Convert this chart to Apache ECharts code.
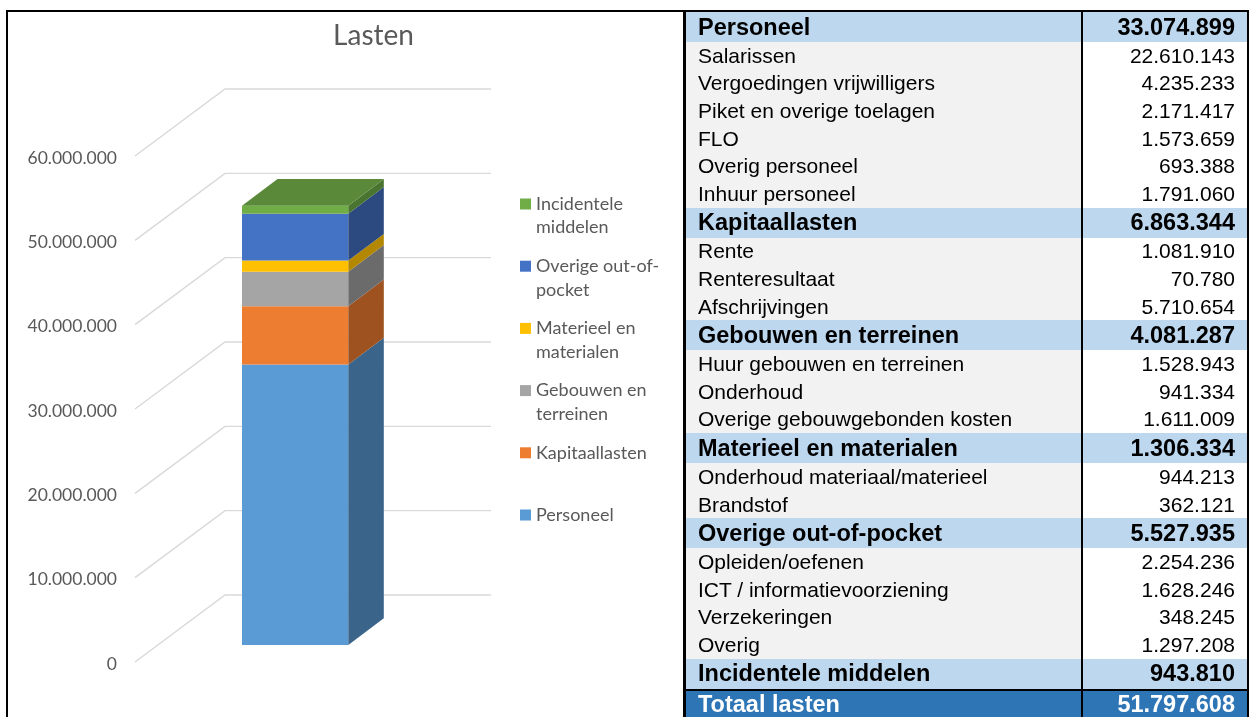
<!DOCTYPE html>
<html>
<head>
<meta charset="utf-8">
<script src="https://cdn.jsdelivr.net/npm/echarts@6/dist/echarts.min.js"></script>
<style>
html,body{margin:0;padding:0;background:#fff;width:1250px;height:717px;overflow:hidden;}
#chart{position:absolute;left:0;top:0;width:1250px;height:717px;}
#table{position:absolute;left:0;top:0;width:1250px;height:717px;font-family:"Liberation Sans",Arial,sans-serif;color:#000;}
.cell{position:absolute;box-sizing:border-box;display:flex;align-items:center;white-space:nowrap;}
.lab{padding-left:12px;}
.val{justify-content:flex-end;padding-right:12px;}
.det{font-size:21px;}
.hdr{font-size:23.5px;font-weight:bold;}
.line{position:absolute;background:#000;}
</style>
</head>
<body>
<div id="chart"></div>
<div id="table"></div>
<script>
// ---------- DATA ----------
const groups = ['Personeel', 'Kapitaallasten', 'Gebouwen en terreinen', 'Materieel en materialen', 'Overige out-of-pocket', 'Incidentele middelen'];
const groupTotals = [33074899, 6863344, 4081287, 1306334, 5527935, 943810];
const legendLabels = ['Personeel', 'Kapitaallasten', 'Gebouwen en\nterreinen', 'Materieel en\nmaterialen', 'Overige out-of-\npocket', 'Incidentele\nmiddelen'];
const yTicks = [0, 10000000, 20000000, 30000000, 40000000, 50000000, 60000000];

const personeelItems = ['Salarissen', 'Vergoedingen vrijwilligers', 'Piket en overige toelagen', 'FLO', 'Overig personeel', 'Inhuur personeel'];
const personeelValues = [22610143, 4235233, 2171417, 1573659, 693388, 1791060];
const kapitaalItems = ['Rente', 'Renteresultaat', 'Afschrijvingen'];
const kapitaalValues = [1081910, 70780, 5710654];
const gebouwenItems = ['Huur gebouwen en terreinen', 'Onderhoud', 'Overige gebouwgebonden kosten'];
const gebouwenValues = [1528943, 941334, 1611009];
const materieelItems = ['Onderhoud materiaal/materieel', 'Brandstof'];
const materieelValues = [944213, 362121];
const overigeItems = ['Opleiden/oefenen', 'ICT / informatievoorziening', 'Verzekeringen', 'Overig'];
const overigeValues = [2254236, 1628246, 348245, 1297208];
const incidenteleItems = [];
const incidenteleValues = [];
const totalLabel = 'Totaal lasten';
const totalValue = 51797608;

// ---------- STYLE ----------
const frontColors = ['#5B9BD5', '#ED7D31', '#A5A5A5', '#FFC000', '#4472C4', '#70AD47'];
const sideColors  = ['#3A6489', '#9E521F', '#6B6B6B', '#B38800', '#2C4A80', '#4A7530'];
const topColors   = ['#4A7DAB', '#BE6427', '#848484', '#CC9A00', '#365B9D', '#5A8A39'];
const DX = 35.5, DY = -26.7;
const textGray = '#595959';
const chartFont = 'Lato, "Open Sans", sans-serif';

const fmt = v => String(Math.round(v)).replace(/\B(?=(\d{3})+(?!\d))/g, '.');

// ---------- CHART ----------
const bases = [];
let acc = 0;
groupTotals.forEach(v => { bases.push(acc); acc += v; });
const lastIdx = groups.length - 1;

const barSeries = groups.map((name, i) => ({
  type: 'custom',
  name: name,
  xAxisIndex: 1,
  yAxisIndex: 1,
  clip: false,
  silent: true,
  z: 10 + i,
  data: [[0, bases[i], bases[i] + groupTotals[i]]],
  renderItem: function (params, api) {
    const xc = api.coord([api.value(0), 0])[0];
    const w = api.size([1, 0])[0];
    const xl = xc - w / 2, xr = xc + w / 2;
    const yb = api.coord([api.value(0), api.value(1)])[1];
    const yt = api.coord([api.value(0), api.value(2)])[1];
    const children = [
      { type: 'polygon', shape: { points: [[xl, yb], [xr, yb], [xr, yt], [xl, yt]] }, style: { fill: frontColors[i] } },
      { type: 'polygon', shape: { points: [[xr, yb], [xr + DX, yb + DY], [xr + DX, yt + DY], [xr, yt]] }, style: { fill: sideColors[i] } }
    ];
    if (i === lastIdx) {
      children.push({ type: 'polygon', shape: { points: [[xl, yt], [xr, yt], [xr + DX, yt + DY], [xl + DX, yt + DY]] }, style: { fill: topColors[i] } });
    }
    return { type: 'group', children: children };
  }
}));

const gridSeries = {
  type: 'custom',
  xAxisIndex: 0,
  yAxisIndex: 0,
  clip: false,
  silent: true,
  z: 1,
  data: yTicks.map(v => [0, v]),
  renderItem: function (params, api) {
    const y = api.coord([0, api.value(1)])[1];
    return {
      type: 'polyline',
      shape: { points: [[135, y - 2], [225, y - 69], [491, y - 69]] },
      style: { stroke: '#D9D9D9', lineWidth: 1.4, fill: null }
    };
  }
};

const legendGraphics = [];
for (let k = 0; k < groups.length; k++) {
  const i = lastIdx - k;
  const cy = 204 + k * 62.2;
  legendGraphics.push({ type: 'rect', shape: { x: 520, y: cy - 5.5, width: 11, height: 11 }, style: { fill: frontColors[i] }, silent: true });
  legendGraphics.push({ type: 'text', x: 536, y: cy - 11.75, style: { text: legendLabels[i], font: '18px ' + chartFont, fill: textGray, lineHeight: 23.5, verticalAlign: 'top', align: 'left' }, silent: true });
}

const chart = echarts.init(document.getElementById('chart'), null, { renderer: 'canvas' });
chart.setOption({
  backgroundColor: '#fff',
  animation: false,
  title: {
    text: 'Lasten', left: 368.5, top: 17, textAlign: 'center',
    textStyle: { fontFamily: chartFont, fontSize: 28, fontWeight: 'normal', color: textGray }
  },
  grid: [
    { left: 125, top: 158, height: 506, width: 100 },
    { left: 242, top: 645 - 60 * (439.3 / 51.797608), height: 60 * (439.3 / 51.797608), width: 106.3 }
  ],
  xAxis: [
    { type: 'category', gridIndex: 0, data: [''], show: false },
    { type: 'category', gridIndex: 1, data: ['Lasten'], show: false }
  ],
  yAxis: [
    {
      type: 'value', gridIndex: 0, min: 0, max: 60000000, interval: 10000000,
      axisLine: { show: false }, axisTick: { show: false }, splitLine: { show: false },
      axisLabel: { margin: 8, formatter: v => fmt(v), fontFamily: chartFont, fontSize: 17.5, color: textGray }
    },
    { type: 'value', gridIndex: 1, min: 0, max: 60000000, show: false, splitLine: { show: false } }
  ],
  graphic: [
    { type: 'rect', shape: { x: 7, y: 11, width: 677, height: 720 }, style: { fill: null, stroke: '#000', lineWidth: 2 }, silent: true, z: 100 }
  ].concat(legendGraphics),
  series: [gridSeries].concat(barSeries)
});

// ---------- TABLE ----------
const groupItems = [personeelItems, kapitaalItems, gebouwenItems, materieelItems, overigeItems, incidenteleItems];
const groupValues = [personeelValues, kapitaalValues, gebouwenValues, materieelValues, overigeValues, incidenteleValues];
const rows = [];
groups.forEach((g, gi) => {
  rows.push({ kind: 'h', label: g, value: groupTotals[gi] });
  groupItems[gi].forEach((it, k) => rows.push({ kind: 'd', label: it, value: groupValues[gi][k] }));
});
rows.push({ kind: 't', label: totalLabel, value: totalValue });

const tbl = document.getElementById('table');
const L = 686, DIV = 1081, R = 1247;
let y = 12;
rows.forEach(r => {
  let h = r.kind === 'd' ? 27.6 : 30;
  if (r.kind === 't') { y += 2; h = 717 - y + 4; }
  const lab = document.createElement('div');
  const val = document.createElement('div');
  lab.className = 'cell lab ' + (r.kind === 'd' ? 'det' : 'hdr');
  val.className = 'cell val ' + (r.kind === 'd' ? 'det' : 'hdr');
  lab.style.cssText = `left:${L}px;top:${y}px;width:${DIV - L}px;height:${h}px;`;
  val.style.cssText = `left:${DIV}px;top:${y}px;width:${R - DIV}px;height:${h}px;`;
  if (r.kind === 'h') { lab.style.background = '#BDD7EE'; val.style.background = '#BDD7EE'; }
  else if (r.kind === 'd') { lab.style.background = '#F2F2F2'; val.style.background = '#FFFFFF'; }
  else { lab.style.background = '#2E75B6'; val.style.background = '#2E75B6'; lab.style.color = '#fff'; val.style.color = '#fff'; }
  if (r.kind === 't') { lab.style.height = '27px'; val.style.height = '27px'; }
  lab.textContent = r.label;
  val.textContent = fmt(r.value);
  tbl.appendChild(lab);
  tbl.appendChild(val);
  if (r.kind === 'h' && r.label === groups[lastIdx]) {
    const ln = document.createElement('div');
    ln.className = 'line';
    ln.style.cssText = `left:${L - 2}px;top:${y + h}px;width:${R + 2 - L + 2}px;height:2px;`;
    tbl.appendChild(ln);
  }
  y += h;
});
// borders
[[L - 2, 10, 2, 717], [DIV, 10, 2, 717], [R, 10, 2, 717], [L - 2, 10, R + 2 - L + 2, 2]].forEach(b => {
  const d = document.createElement('div');
  d.className = 'line';
  d.style.cssText = `left:${b[0]}px;top:${b[1]}px;width:${b[2]}px;height:${b[3]}px;`;
  tbl.appendChild(d);
});
</script>
</body>
</html>
